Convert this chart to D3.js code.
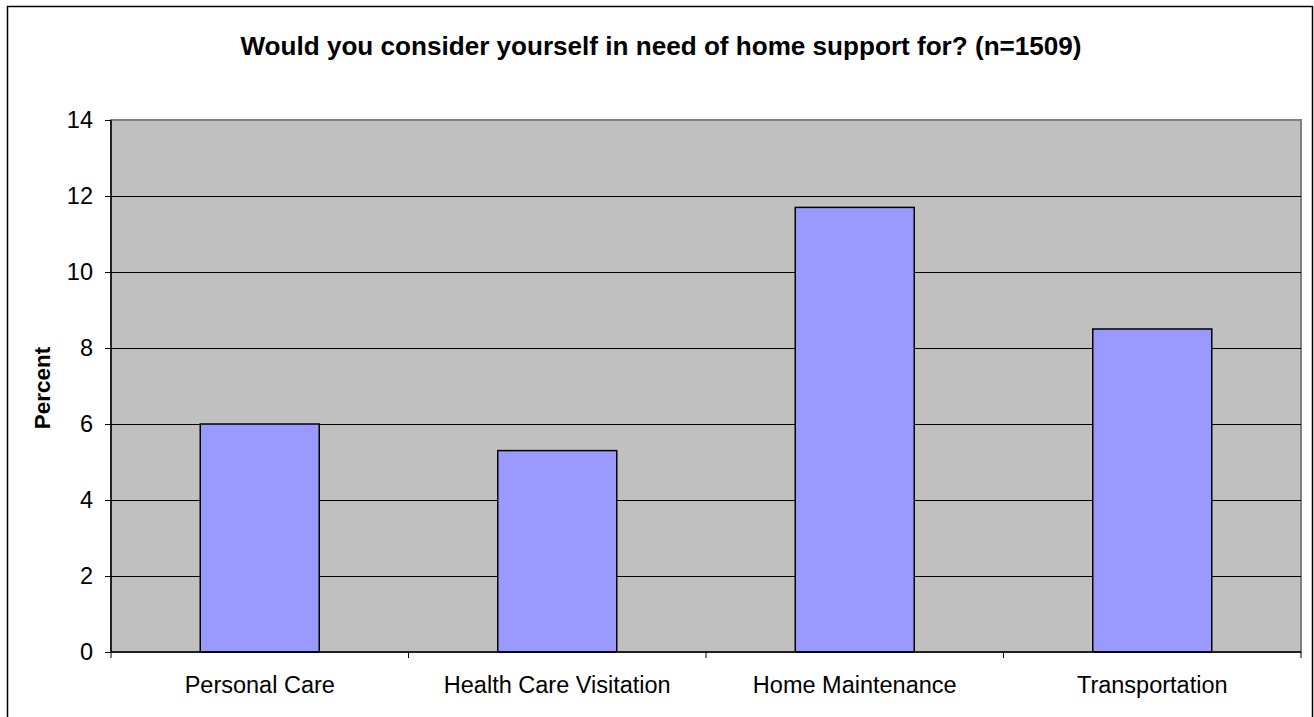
<!DOCTYPE html>
<html><head><meta charset="utf-8">
<script src="https://cdn.jsdelivr.net/npm/d3@7"></script>
<style>body{margin:0;background:#fff}svg{display:block}text{font-family:Arial,"Liberation Sans",sans-serif}</style>
</head><body>
<svg id="c" width="1314" height="717"></svg>
<script>
const categories = ["Personal Care","Health Care Visitation","Home Maintenance","Transportation"];
const values = [6.0, 5.3, 11.7, 8.5];
const yTicks = [0,2,4,6,8,10,12,14];
const title = "Would you consider yourself in need of home support for? (n=1509)";
const yLabel = "Percent";

const svg = d3.select("#c");
const L=111, R=1301, T=120, B=652;
svg.append("rect").attr("x",7.5).attr("y",6.5).attr("width",1305).attr("height",720).attr("fill","#fff").attr("stroke","#000").attr("stroke-width",1.5);

const x = d3.scaleBand().domain(categories).range([L,R]).paddingInner(0.6).paddingOuter(0.3);
const xb = d3.scaleLinear().domain([0,categories.length]).range([L,R]);
const y = d3.scaleLinear().domain([0,14]).range([B,T]);

svg.append("rect").attr("x",L).attr("y",T).attr("width",R-L).attr("height",B-T).attr("fill","#C0C0C0").attr("stroke","#808080").attr("stroke-width",2);

svg.append("g").selectAll("line").data(yTicks.filter(d=>d>0&&d<14)).join("line")
  .attr("x1",L).attr("x2",R).attr("y1",d=>y(d)+0.5).attr("y2",d=>y(d)+0.5).attr("stroke","#000").attr("stroke-width",1);

svg.append("g").selectAll("rect").data(values).join("rect")
  .attr("x",(d,i)=>x(categories[i])).attr("width",x.bandwidth())
  .attr("y",d=>y(d)).attr("height",d=>B-y(d))
  .attr("fill","#9999FF").attr("stroke","#000").attr("stroke-width",1.5);

// y axis
const ya = svg.append("g").attr("transform",`translate(${L},0)`)
  .call(d3.axisLeft(y).tickValues(yTicks).tickSize(6).tickPadding(12));
ya.select(".domain").attr("stroke","#000").attr("stroke-width",1.5).attr("d",`M0,${T}V${B}`);
ya.selectAll("line").attr("stroke","#000");
ya.selectAll("text").attr("font-size",23.5).attr("fill","#000").attr("font-family","Arial, 'Liberation Sans', sans-serif");

// x axis baseline + boundary ticks
svg.append("line").attr("x1",L).attr("x2",R).attr("y1",B).attr("y2",B).attr("stroke","#000").attr("stroke-width",1.5);
svg.append("g").selectAll("line").data(d3.range(categories.length+1)).join("line")
  .attr("x1",d=>xb(d)).attr("x2",d=>xb(d)).attr("y1",B).attr("y2",B+6).attr("stroke","#000");
svg.append("g").selectAll("text").data(categories).join("text")
  .attr("x",d=>x(d)+x.bandwidth()/2).attr("y",693).attr("text-anchor","middle")
  .attr("font-size",23.5).text(d=>d);

svg.append("text").attr("x",661).attr("y",55).attr("text-anchor","middle")
  .attr("font-size",26.1).attr("font-weight","bold").text(title);
svg.append("text").attr("transform","translate(50,388) rotate(-90)").attr("text-anchor","middle")
  .attr("font-size",22.5).attr("font-weight","bold").text(yLabel);
</script>
</body></html>
